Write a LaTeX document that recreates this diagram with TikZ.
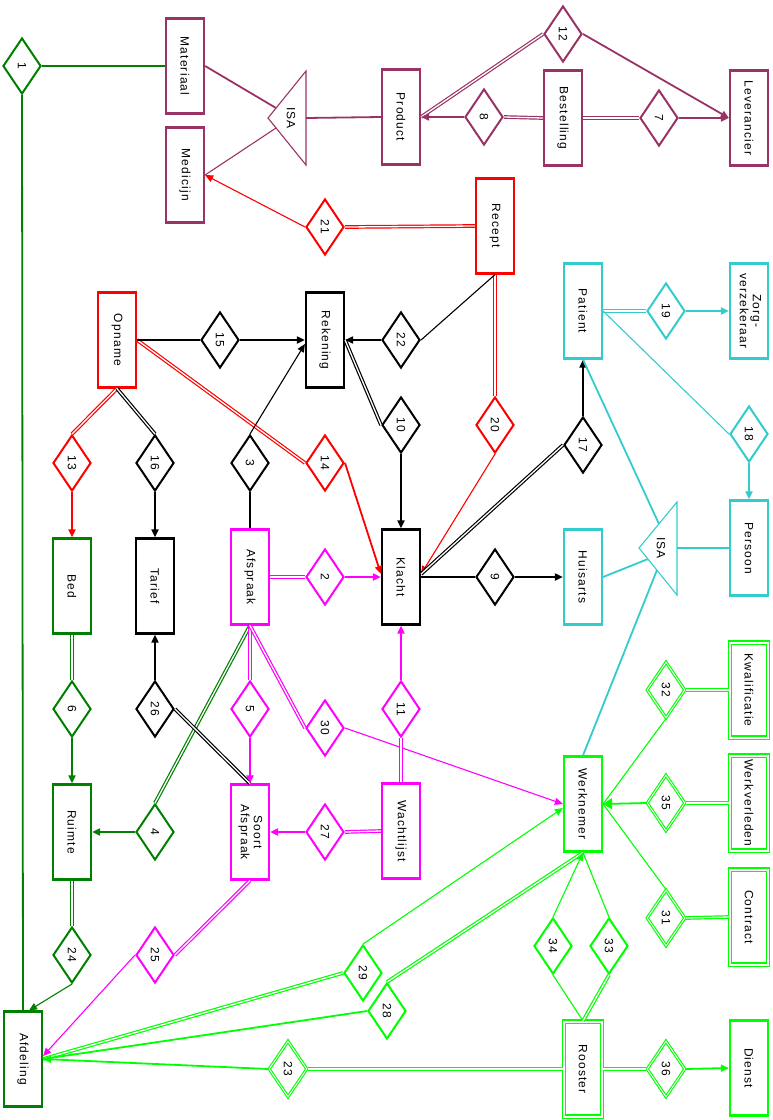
\documentclass[tikz,border=0pt]{standalone}
\usepackage{fontspec}
\setmainfont{Liberation Sans}[LetterSpace=10]
\usetikzlibrary{arrows.meta, shapes.geometric}

\definecolor{purp}{RGB}{153,51,102}
\definecolor{dgr}{RGB}{0,128,0}
\definecolor{rd}{RGB}{255,0,0}
\definecolor{cy}{RGB}{51,204,204}
\definecolor{mag}{RGB}{255,0,255}
\definecolor{lgr}{RGB}{0,255,0}
\newcommand{\rt}[1]{\rotatebox{-90}{#1}}
\newcommand{\rtt}[2]{\rotatebox{-90}{\begin{tabular}{@{}c@{}}#1\\#2\end{tabular}}}

\begin{document}
\begin{tikzpicture}[x=1pt, y=-1pt,
    every node/.style={font=\fontsize{12}{13}\selectfont, text=black},
    ent/.style={draw, rectangle, line width=2.2pt, minimum width=38pt, minimum height=95pt, inner sep=0pt},
    rel/.style={draw, diamond, line width=2pt, minimum width=38pt, minimum height=56pt, inner sep=0pt},
    weak/.style={double, double distance=2pt, line width=1.1pt},
    weakrel/.style={double, double distance=0.9pt, line width=1.1pt},
    ln/.style={line width=1.8pt},
    fine/.style={line width=1.1pt},
    dbl/.style={double, double distance=1.3pt, line width=1.2pt},
    arr/.style={-{Triangle[length=8pt,width=7pt]}}]
    \useasboundingbox (0,0) rectangle (773,1120);

    % entiteiten
    \node[ent, draw=purp] (mat) at (185,66) {\rt{Materiaal}};
    \node[ent, draw=purp] (med) at (185,175) {\rt{Medicijn}};
    \node[ent, draw=purp] (prod) at (401,117) {\rt{Product}};
    \node[ent, draw=purp] (best) at (563,118) {\rt{Bestelling}};
    \node[ent, draw=purp] (lev) at (749,118) {\rt{Leverancier}};
    \node[ent, draw=rd] (rec) at (495,226) {\rt{Recept}};
    \node[ent, draw=rd] (opn) at (117,340) {\rt{Opname}};
    \node[ent] (rek) at (325,340) {\rt{Rekening}};
    \node[ent, draw=cy] (pat) at (583,311) {\rt{Patient}};
    \node[ent, draw=cy] (zorg) at (749,311) {\rtt{Zorg-}{verzekeraar}};
    \node[ent, draw=cy] (pers) at (749,548) {\rt{Persoon}};
    \node[ent, draw=cy] (huis) at (583,577) {\rt{Huisarts}};
    \node[ent] (kla) at (401,577) {\rt{Klacht}};
    \node[ent, draw=dgr] (bed) at (72,586) {\rt{Bed}};
    \node[ent] (tar) at (155,586) {\rt{Tarief}};
    \node[ent, draw=mag] (afs) at (250,577) {\rt{Afspraak}};
    \node[ent, draw=dgr] (rui) at (72,832) {\rt{Ruimte}};
    \node[ent, draw=mag] (soort) at (250,832) {\rtt{Soort}{Afspraak}};
    \node[ent, draw=mag] (wacht) at (401,831) {\rt{Wachtlijst}};
    \node[ent, draw=lgr] (werk) at (583,804) {\rt{Werknemer}};
    \node[ent, weak, draw=lgr] (kwal) at (749,690) {\rt{Kwalificatie}};
    \node[ent, weak, draw=lgr] (verl) at (749,803) {\rt{Werkverleden}};
    \node[ent, weak, draw=lgr] (contr) at (749,917) {\rt{Contract}};
    \node[ent, weak, draw=lgr] (roost) at (583,1069) {\rt{Rooster}};
    \node[ent, draw=lgr] (dienst) at (749,1068) {\rt{Dienst}};
    \node[ent, draw=dgr] (afd) at (23,1059) {\rt{Afdeling}};

    % relaties
    \foreach \n/\x/\y/\c in {1/22/66/dgr, 2/325/577/mag, 3/250/463/black, 4/155/832/dgr,
        5/250/709/mag, 6/72/709/dgr, 7/659/118/purp, 8/484/117/purp, 9/495/577/black,
        10/401/425/black, 11/401/709/mag, 12/563/34/purp, 13/72/463/rd, 14/325/463/rd,
        15/220/340/black, 16/155/463/black, 17/583/445/black, 18/749/434/cy, 19/666/311/cy,
        20/495/425/rd, 21/325/227/rd, 22/401/340/black, 24/72/955/dgr, 25/155/955/mag,
        26/155/709/black, 27/325/832/mag, 28/387/1011/lgr, 29/363/973/lgr, 30/325/728/mag,
        33/609/946/lgr, 34/553/946/lgr}
        \node[rel, draw=\c] (r\n) at (\x,\y) {\rt{\n}};
    \foreach \n/\x/\y in {23/288/1069, 31/666/918, 32/666/690, 35/666/803, 36/666/1069}
        \node[rel, weakrel, draw=lgr] (r\n) at (\x,\y) {\rt{\n}};

    % ISA driehoeken
    \draw[purp, fine] (268,118) -- (306,71) -- (306,165) -- cycle;
    \node (isa1) at (291,118) {\rt{ISA}};
    \coordinate (isa1u) at (276,108);
    \coordinate (isa1l) at (276,128);
    \coordinate (isa1b) at (306,118);
    \draw[cy, fine] (639,548) -- (677,502) -- (677,595) -- cycle;
    \node (isa2) at (661,548) {\rt{ISA}};
    \coordinate (isa2u) at (659,524);
    \coordinate (isa2l) at (648,559);
    \coordinate (isa2w) at (657,570);
    \coordinate (isa2b) at (677,548);

    \draw[ln, purp] (mat.east) -- (isa1u);
    \draw[fine, purp] (isa1l) -- (med.east);
    \draw[ln, purp] (isa1b) -- (prod.west);
    \draw[dbl, purp] (r12.west) -- (prod.east);
    \draw[ln, purp, arr] (r12.east) -- (lev.west);
    \draw[ln, purp, arr] (r8.west) -- (prod.east);
    \draw[dbl, purp] (r8.east) -- (best.west);
    \draw[dbl, purp] (best.east) -- (r7.west);
    \draw[ln, purp, arr] (r7.east) -- (lev.west);

    \draw[ln, dgr] (r1.east) -- (mat.west);
    \draw[ln, dgr] (r1.south) -- (afd.north);
    \draw[dbl, dgr] (bed.south) -- (r6.north);
    \draw[ln, dgr, arr] (r6.south) -- (rui.north);
    \draw[dbl, dgr] (rui.south) -- (r24.north);
    \draw[fine, dgr, arr] (r24.south) -- ([xshift=6pt]afd.north);
    \draw[dbl, dgr] (afs.south) -- (r4.north);
    \draw[ln, dgr, arr] (r4.west) -- (rui.east);

    \draw[dbl, rd] (opn.south) -- (r13.north);
    \draw[ln, rd, arr] (r13.south) -- (bed.north);
    \draw[dbl, rd] (opn.east) -- (r14.west);
    \draw[ln, rd, arr] (r14.east) -- ([yshift=3pt]kla.west);
    \draw[dbl, rd] (rec.west) -- (r21.east);
    \draw[fine, rd, arr] (r21.west) -- (med.east);
    \draw[dbl, rd] (rec.south) -- (r20.north);
    \draw[fine, rd, arr] (r20.south) -- ([yshift=3pt]kla.east);

    \draw[ln] (opn.east) -- (r15.west);
    \draw[ln, arr] (r15.east) -- (rek.west);
    \draw[dbl] (opn.south) -- (r16.north);
    \draw[ln, arr] (r16.south) -- (tar.north);
    \draw[fine, arr] (r3.north) -- ([yshift=-4pt]rek.west);
    \draw[fine] (r3.south) -- (afs.north);
    \draw[fine] (rec.south) -- (r22.east);
    \draw[ln, arr] (r22.west) -- (rek.east);
    \draw[dbl] (rek.east) -- (r10.west);
    \draw[ln, arr] (r10.south) -- (kla.north);
    \draw[ln] (kla.east) -- (r9.west);
    \draw[ln, arr] (r9.east) -- (huis.west);
    \draw[dbl] ([yshift=3pt]kla.east) -- (r17.west);
    \draw[ln, arr] (r17.north) -- (pat.south);
    \draw[ln, arr] (r26.north) -- (tar.south);
    \draw[dbl] (r26.east) -- (soort.north);

    \draw[dbl, cy] (pat.east) -- (r19.west);
    \draw[ln, cy, arr] (r19.east) -- (zorg.west);
    \draw[fine, cy] (pat.east) -- (r18.west);
    \draw[ln, cy, arr] (r18.south) -- (pers.north);
    \draw[ln, cy] (pat.south) -- (isa2u);
    \draw[ln, cy] (huis.east) -- (isa2l);
    \draw[ln, cy] (isa2b) -- (pers.west);
    \draw[ln, cy] (isa2w) -- (werk.north);

    \draw[dbl, mag] (afs.east) -- (r2.west);
    \draw[ln, mag, arr] (r2.east) -- (kla.west);
    \draw[dbl, mag] (afs.south) -- (r5.north);
    \draw[ln, mag, arr] (r5.south) -- (soort.north);
    \draw[dbl, mag] (afs.south) -- (r30.west);
    \draw[fine, mag, arr] (r30.east) -- (werk.west);
    \draw[dbl, mag] (wacht.north) -- (r11.south);
    \draw[ln, mag, arr] (r11.north) -- (kla.south);
    \draw[dbl, mag] (wacht.west) -- (r27.east);
    \draw[ln, mag, arr] (r27.west) -- (soort.east);
    \draw[dbl, mag] (soort.south) -- (r25.east);
    \draw[fine, mag, arr] (r25.west) -- ([yshift=3pt]afd.east);

    \draw[fine, lgr] (werk.east) -- (r32.south);
    \draw[dbl, lgr] (r32.east) -- (kwal.west);
    \draw[ln, lgr, -{Triangle[length=9pt,width=11pt]}] (r35.west) -- (werk.east);
    \draw[dbl, lgr] (r35.east) -- (verl.west);
    \draw[fine, lgr] (werk.east) -- (r31.north);
    \draw[dbl, lgr] (r31.east) -- (contr.west);
    \draw[fine, lgr, arr] (r29.north) -- ([yshift=-4pt]werk.west);
    \draw[dbl, lgr] (r29.west) -- (afd.east);
    \draw[ln, lgr] (r28.west) -- (afd.east);
    \draw[dbl, lgr] (r28.north) -- (werk.south);
    \draw[fine, lgr, arr] (r34.north) -- (werk.south);
    \draw[fine, lgr] (r33.north) -- (werk.south);
    \draw[fine, lgr] (r34.south) -- (roost.north);
    \draw[dbl, lgr] (r33.south) -- (roost.north);
    \draw[dbl, lgr] (roost.west) -- (r23.east);
    \draw[ln, lgr, arr] (r23.west) -- (afd.east);
    \draw[dbl, lgr] (roost.east) -- (r36.west);
    \draw[ln, lgr, arr] (r36.east) -- (dienst.west);
\end{tikzpicture}
\end{document}
